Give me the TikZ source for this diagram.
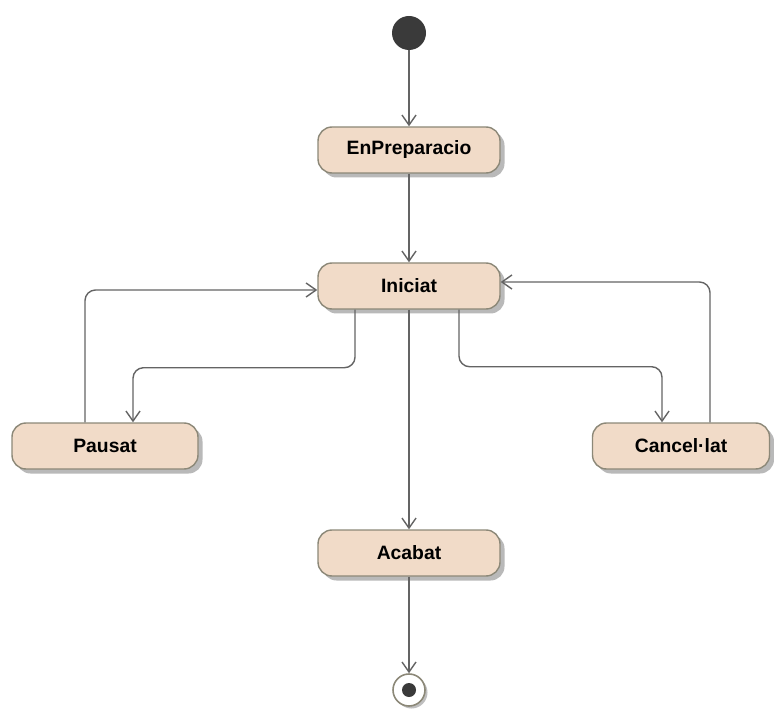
\documentclass[tikz,border=0pt]{standalone}
\usepackage{fontspec}
\setmainfont{Liberation Sans}
\usepackage{tikz}
\usetikzlibrary{positioning, arrows.meta, shadows}

\definecolor{estatfill}{RGB}{241,219,200}
\definecolor{estatline}{RGB}{140,136,120}
\definecolor{fletxa}{RGB}{100,100,100}
\definecolor{fosc}{RGB}{58,58,58}

\tikzset{
    estat/.style={draw=estatline, fill=estatfill, rounded corners=0.28cm,
        minimum width=3.64cm, minimum height=0.92cm, line width=0.8pt,
        font=\fontsize{11}{13}\selectfont\bfseries,
        drop shadow={shadow xshift=0.09cm, shadow yshift=-0.09cm, fill=gray!55, opacity=1}},
    flux/.style={draw=fletxa, line width=0.8pt, rounded corners=6pt,
        -{Straight Barb[length=2mm, width=2.8mm]}},
}

\begin{document}
\begin{tikzpicture}
        \useasboundingbox (0,0) rectangle (15.48,14.4);

        % 状態の描画
        \node[circle, fill=fosc, minimum size=0.68cm, inner sep=0pt] (inici) at (8.18,13.74) {};
        \node[estat] (prep) at (8.18,11.4) {EnPreparacio};
        \node[estat] (iniciat) at (8.18,8.68) {Iniciat};
        \node[estat, minimum width=3.72cm] (pausat) at (2.1,5.48) {Pausat};
        \node[estat, minimum width=3.54cm] (cancel) at (13.62,5.48) {Cancel·lat};
        \node[estat] (acabat) at (8.18,3.34) {Acabat};
        \node[circle, draw=estatline, fill=white, line width=0.9pt, minimum size=0.64cm, inner sep=0pt,
            drop shadow={shadow xshift=0.05cm, shadow yshift=-0.05cm, fill=gray!50, opacity=1}] (final) at (8.18,0.6) {};
        \fill[fosc] (final.center) circle (0.14cm);

        % 遷移の描画
        \draw[flux] (inici) -- (prep);
        \draw[flux] (prep) -- (iniciat);
        \draw[flux] ([xshift=-1.08cm]iniciat.south) -- ++(0,-1.16) -| ([xshift=0.56cm]pausat.north);
        \draw[flux] ([xshift=-0.4cm]pausat.north) |- ([yshift=-0.08cm]iniciat.west);
        \draw[flux] ([xshift=1cm]iniciat.south) -- ++(0,-1.14) -| ([xshift=-0.38cm]cancel.north);
        \draw[flux] ([xshift=0.58cm]cancel.north) |- ([yshift=0.08cm]iniciat.east);
        \draw[flux] (iniciat) -- (acabat);
        \draw[flux] (acabat) -- (final);
    \end{tikzpicture}
\end{document}
